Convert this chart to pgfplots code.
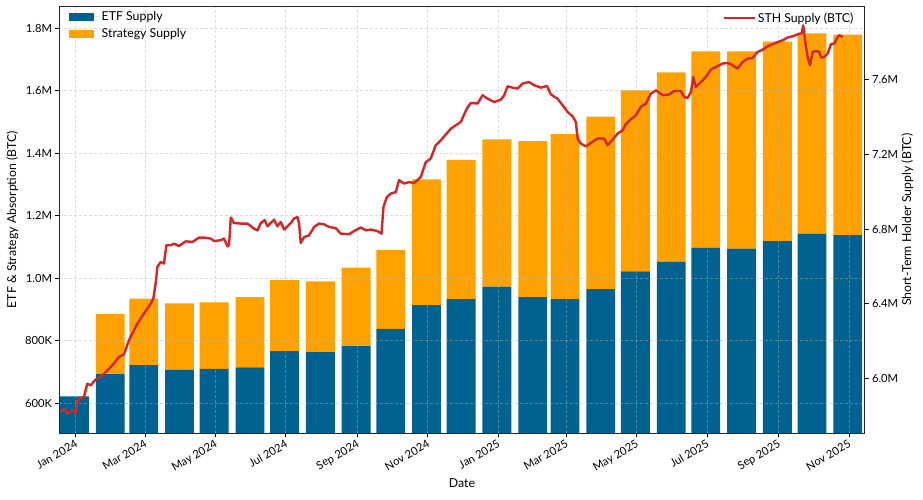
\documentclass[border=0pt]{standalone}
\usepackage{fontspec}
\setmainfont{Lato}
\usepackage{pgfplots}
\usepackage{pgfplotstable}
\pgfplotsset{compat=1.18}

\definecolor{etfblue}{HTML}{006290}
\definecolor{stratorange}{HTML}{FFA200}
\definecolor{sthred}{HTML}{D42626}

% month-end bars, x = days since 1 Jan 2024, values in thousand BTC
\pgfplotstableread{
day etf strat
-1 622 0
30 693 192
59 722 213
90 707 213
120 710 213
151 715 225
181 767 227
212 764 226
243 783 251
273 838 252
304 914 402
334 933 446
365 973 471
396 940 499
424 933 528
455 965 552
485 1022 579
516 1052 607
546 1098 628
577 1095 631
608 1119 638
638 1143 640
669 1138 641
}\bars

\pgfplotsset{
  common/.style={
    width=805pt, height=427pt, scale only axis,
    xmin=-14, xmax=683.5,
    tick align=outside,
    major tick length=4pt,
    every tick/.style={black, line width=0.8pt},
    tick label style={font=\fontsize{11.2}{13}\selectfont},
    axis line style={line width=0.9pt, black!85},
  },
}

\begin{document}
\begin{tikzpicture}
\path[use as bounding box] (-59.5pt,-66.7pt) rectangle (863.5pt,433.3pt);

\begin{axis}[
  common,
  ymin=504, ymax=1870,
  axis on top,
  xtick pos=bottom, ytick pos=left,
  xtick={0,60,121,182,244,305,366,425,486,547,609,670},
  xticklabels={Jan 2024,Mar 2024,May 2024,Jul 2024,Sep 2024,Nov 2024,Jan 2025,Mar 2025,May 2025,Jul 2025,Sep 2025,Nov 2025},
  xticklabel style={rotate=30, anchor=north east, inner sep=1pt, xshift=-1pt},
  ytick={600,800,1000,1200,1400,1600,1800},
  yticklabels={600K,800K,1.0M,1.2M,1.4M,1.6M,1.8M},
  grid=major,
  major grid style={dash pattern=on 3pt off 2pt, line width=0.6pt, gray!60, opacity=0.45},
  every axis x label/.style={at={(axis description cs:0.5,-0.117)}, anchor=center, font=\fontsize{12.3}{14}\selectfont},
  every axis y label/.style={at={(axis description cs:-0.0584,0.5)}, anchor=center, rotate=90, font=\fontsize{12.3}{14}\selectfont},
  xlabel={Date},
  ylabel={ETF \& Strategy Absorption (BTC)},
  ybar stacked, bar width=25,
  legend style={at={(axis description cs:0,1)}, anchor=north west, xshift=6pt, yshift=-1pt,
    draw=none, fill=none, font=\fontsize{12.3}{14}\selectfont, row sep=2.5pt},
  legend cell align=left,
  legend image code/.code={\path[#1, draw=none] (0pt,-4pt) rectangle (25pt,4pt); \path (0pt,0pt) -- (31pt,0pt);},
]
\addplot[fill=etfblue, draw=none] table[x=day, y=etf] {\bars};
\addplot[fill=stratorange, draw=none] table[x=day, y=strat] {\bars};
\legend{ETF Supply, Strategy Supply}
\end{axis}

\begin{axis}[
  common,
  ymin=5.7075, ymax=7.991,
  axis x line=none,
  axis y line*=right,
  ytick={6.0,6.4,6.8,7.2,7.6},
  yticklabels={6.0M,6.4M,6.8M,7.2M,7.6M},
  every axis y label/.style={at={(axis description cs:1.0534,0.5)}, anchor=center, rotate=90, font=\fontsize{12.3}{14}\selectfont},
  ylabel={Short-Term Holder Supply (BTC)},
  legend style={at={(axis description cs:1,1)}, anchor=north east, xshift=-6pt, yshift=-2pt,
    draw=none, fill=none, font=\fontsize{12.3}{14}\selectfont},
  legend image code/.code={\draw[#1] (0pt,0pt) -- (25pt,0pt); \path (0pt,0pt) -- (31pt,0pt);},
]
\addplot[sthred, line width=2.4pt, line join=round] coordinates {
(-13.0,5.821) (-9.5,5.840) (-7.2,5.813) (-4.3,5.821) (-1.5,5.830) (0,5.813)
(1.5,5.884) (4.3,5.893) (7.2,5.902) (10.1,5.973) (13.0,5.964) (17.3,5.995)
(21.7,6.009) (27.5,6.044) (31.8,6.071) (37.5,6.116) (41.9,6.130) (46.2,6.205)
(53.5,6.294) (59.2,6.348) (65.0,6.401) (67.3,6.428) (69.3,6.508) (70.8,6.597)
(73.7,6.624) (76.5,6.615) (78.6,6.713) (82.3,6.713) (85.2,6.722) (89.5,6.709)
(95.3,6.734) (101.2,6.731) (106.9,6.754) (111.2,6.754) (117.0,6.749) (119.9,6.736)
(125.7,6.740) (128.5,6.749) (131.5,6.708) (132.9,6.713) (134.4,6.861) (137.2,6.832)
(143.0,6.829) (148.8,6.829) (154.6,6.802) (157.5,6.793) (160.4,6.832) (163.8,6.847)
(166.2,6.815) (171.9,6.850) (174.8,6.815) (177.7,6.838) (180.6,6.797) (186.4,6.832)
(189.2,6.856) (192.2,6.864) (193.6,6.829) (195.0,6.725) (197.9,6.757) (202.2,6.766)
(206.6,6.811) (210.9,6.829) (215.2,6.825) (219.6,6.811) (225.4,6.805) (229.7,6.775)
(236.9,6.772) (241.2,6.789) (247.0,6.808) (251.4,6.793) (255.7,6.797) (261.5,6.789)
(265.0,6.775) (266.7,6.918) (269.6,6.971) (273.0,6.989) (277.4,6.998) (280.2,7.061)
(284.6,7.043) (288.9,7.051) (293.2,7.046) (299.0,7.078) (303.4,7.158) (307.7,7.177)
(312.0,7.248) (316.4,7.274) (320.7,7.306) (325.1,7.337) (329.4,7.355) (333.7,7.372)
(338.9,7.444) (342.4,7.474) (348.2,7.471) (352.5,7.515) (356.9,7.497) (362.6,7.479)
(368.4,7.492) (371.3,7.515) (374.2,7.563) (378.5,7.556) (382.9,7.551) (387.2,7.578)
(392.9,7.586) (397.3,7.569) (403.1,7.556) (408.3,7.565) (411.7,7.520) (417.5,7.497)
(421.9,7.462) (426.2,7.426) (430.5,7.403) (433.4,7.372) (434.9,7.284) (437.7,7.257)
(442.1,7.242) (446.4,7.260) (452.2,7.284) (457.9,7.284) (460.9,7.248) (465.2,7.278)
(469.5,7.310) (473.9,7.328) (476.7,7.360) (481.1,7.387) (485.4,7.408) (489.7,7.453)
(494.1,7.471) (498.4,7.524) (502.8,7.542) (508.6,7.515) (514.3,7.520) (518.6,7.538)
(524.4,7.538) (527.3,7.506) (530.2,7.501) (533.1,7.533) (535.1,7.613) (537.4,7.559)
(541.8,7.586) (546.1,7.613) (550.4,7.653) (554.8,7.666) (560.6,7.685) (564.9,7.688)
(567.8,7.681) (573.6,7.658) (577.9,7.693) (582.2,7.711) (586.6,7.715) (590.9,7.747)
(595.2,7.759) (599.6,7.777) (603.9,7.788) (608.3,7.800) (612.6,7.809) (616.9,7.824)
(621.3,7.831) (625.6,7.841) (629.1,7.848) (630.4,7.889) (632.2,7.800) (634.2,7.720)
(636.2,7.676) (638.6,7.747) (641.4,7.752) (644.3,7.747) (645.8,7.717) (648.6,7.720)
(651.6,7.738) (654.4,7.788) (657.3,7.792) (660.2,7.827) (661.6,7.836) (664.6,7.827)
};
\legend{STH Supply (BTC)}
\end{axis}
\end{tikzpicture}
\end{document}
